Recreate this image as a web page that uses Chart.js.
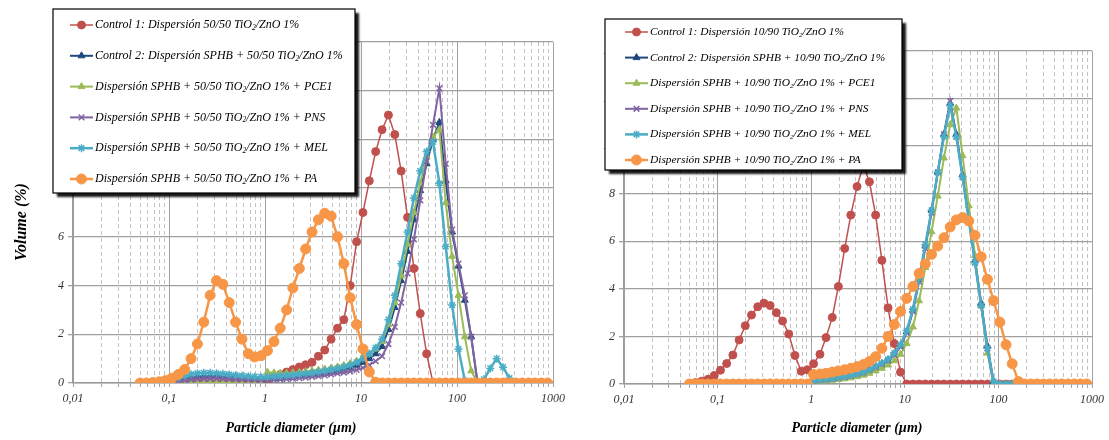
<!DOCTYPE html>
<html>
<head>
<meta charset="utf-8">
<script src="https://cdn.jsdelivr.net/npm/chart.js@4"></script>
<style>
  body { margin: 0; background: #fff; }
  #wrap { position: relative; width: 1109px; height: 440px; }
  #left_chart { position: absolute; left: 0; top: 0; }
  #right_chart { position: absolute; left: 580px; top: 0; }
</style>
</head>
<body>
<div id="wrap">
  <canvas id="left_chart" width="570" height="440"></canvas>
  <canvas id="right_chart" width="529" height="440"></canvas>
</div>
<script>
// particle size classes (µm)
const sizes = [
  0.05, 0.0582, 0.0679, 0.0791, 0.0921, 0.1073, 0.125, 0.1456, 0.1697, 0.1977, 0.2303, 0.2683, 0.3125,
  0.3641, 0.4242, 0.4941, 0.5757, 0.6706, 0.7813, 0.9101, 1.06, 1.24, 1.44, 1.68, 1.95, 2.28,
  2.65, 3.09, 3.60, 4.19, 4.88, 5.69, 6.63, 7.72, 9.00, 10.48, 12.21, 14.22, 16.57,
  19.31, 22.49, 26.20, 30.53, 35.56, 41.43, 48.27, 56.23, 65.51, 76.32, 88.91, 103.58, 120.67,
  140.58, 163.77, 190.80, 222.28, 258.95, 301.68, 351.46, 409.45, 477.01, 555.71, 647.41, 754.23, 878.67
];

// ---- 50/50 TiO2/ZnO (left) ----
const labels_5050 = [
  'Control 1: Dispersión 50/50 TiO₂/ZnO 1%',
  'Control 2: Dispersión SPHB + 50/50 TiO₂/ZnO 1%',
  'Dispersión SPHB + 50/50 TiO₂/ZnO 1% + PCE1',
  'Dispersión SPHB + 50/50 TiO₂/ZnO 1% + PNS',
  'Dispersión SPHB + 50/50 TiO₂/ZnO 1% + MEL',
  'Dispersión SPHB + 50/50 TiO₂/ZnO 1% + PA'
];
const control1_5050 = [
  0, 0, 0, 0, 0, 0, 0, 0, 0, 0, 0, 0, 0,
  0, 0, 0, 0, 0, 0.03, 0.08, 0.15, 0.25, 0.35, 0.45, 0.55, 0.66,
  0.75, 0.85, 1.1, 1.35, 1.8, 2.25, 2.6, 4.0, 5.8, 7.0, 8.3, 9.5, 10.4,
  11.0, 10.2, 8.7, 6.8, 4.7, 2.85, 1.2, 0, 0, 0, 0, 0, 0,
  0, 0, 0, 0, 0, 0, 0, 0, 0, 0, 0, 0, 0
];
const control2_5050 = [
  0, 0, 0, 0, 0.02, 0.08, 0.15, 0.2, 0.25, 0.28, 0.3, 0.3, 0.3,
  0.28, 0.26, 0.24, 0.22, 0.2, 0.18, 0.17, 0.17, 0.18, 0.2, 0.22, 0.24, 0.27,
  0.3, 0.33, 0.37, 0.41, 0.46, 0.51, 0.57, 0.64, 0.73, 0.85, 1.0, 1.2, 1.5,
  2.2, 3.1, 4.2, 5.4, 6.7, 7.9, 9.0, 10.0, 10.7, 8.3, 6.2, 4.8, 3.4,
  1.9, 0, 0, 0, 0, 0, 0, 0, 0, 0, 0, 0, 0
];
const pce1_5050 = [
  0, 0, 0, 0, 0, 0, 0, 0, 0, 0, 0, 0, 0,
  0, 0, 0, 0, 0, 0, 0, 0.45, 0.42, 0.4, 0.4, 0.42, 0.44,
  0.47, 0.5, 0.53, 0.57, 0.61, 0.66, 0.72, 0.8, 0.9, 1.05, 1.2, 1.4, 1.7,
  2.4, 3.3, 4.4, 5.7, 7.0, 8.2, 9.3, 10.1, 10.4, 7.4, 5.2, 3.6, 1.9,
  0.5, 0, 0, 0, 0, 0, 0, 0, 0, 0, 0, 0, 0
];
const pns_5050 = [
  0, 0, 0, 0, 0.01, 0.04, 0.08, 0.11, 0.14, 0.16, 0.17, 0.18, 0.18,
  0.17, 0.16, 0.15, 0.14, 0.13, 0.12, 0.12, 0.12, 0.13, 0.14, 0.16, 0.18, 0.2,
  0.22, 0.25, 0.28, 0.31, 0.35, 0.39, 0.43, 0.48, 0.54, 0.62, 0.74, 0.9, 1.1,
  1.6, 2.3, 3.3, 4.5, 5.9, 7.5, 9.1, 10.6, 12.1, 9.0, 6.3, 4.9, 3.6,
  1.9, 0, 0, 0, 0, 0, 0, 0, 0, 0, 0, 0, 0
];
const mel_5050 = [
  0, 0, 0, 0, 0.03, 0.12, 0.22, 0.3, 0.36, 0.4, 0.42, 0.42, 0.4,
  0.38, 0.35, 0.32, 0.3, 0.28, 0.26, 0.25, 0.25, 0.27, 0.29, 0.31, 0.33, 0.36,
  0.39, 0.42, 0.46, 0.5, 0.55, 0.6, 0.66, 0.73, 0.85, 1.0, 1.2, 1.45, 1.8,
  2.6, 3.6, 4.9, 6.2, 7.6, 8.7, 9.5, 9.9, 8.2, 5.6, 3.2, 1.4, 0.1,
  0, 0, 0.15, 0.6, 1.0, 0.65, 0.2, 0, 0, 0, 0, 0, 0
];
const pa_5050 = [
  0, 0, 0.02, 0.05, 0.1, 0.2, 0.35, 0.55, 1.0, 1.6, 2.5, 3.6, 4.2,
  4.05, 3.3, 2.5, 1.8, 1.2, 1.07, 1.12, 1.33, 1.7, 2.25, 3.0, 3.9, 4.7,
  5.5, 6.2, 6.7, 6.97, 6.85, 6.0, 4.9, 3.5, 2.4, 1.4, 0.45, 0.03, 0,
  0, 0, 0, 0, 0, 0, 0, 0, 0, 0, 0, 0, 0,
  0, 0, 0, 0, 0, 0, 0, 0, 0, 0, 0, 0, 0
];

// ---- 10/90 TiO2/ZnO (right) ----
const labels_1090 = [
  'Control 1: Dispersión 10/90 TiO₂/ZnO 1%',
  'Control 2: Dispersión SPHB + 10/90 TiO₂/ZnO 1%',
  'Dispersión SPHB + 10/90 TiO₂/ZnO 1% + PCE1',
  'Dispersión SPHB + 10/90 TiO₂/ZnO 1% + PNS',
  'Dispersión SPHB + 10/90 TiO₂/ZnO 1% + MEL',
  'Dispersión SPHB + 10/90 TiO₂/ZnO 1% + PA'
];
const control1_1090 = [
  0, 0.06, 0.12, 0.2, 0.36, 0.58, 0.86, 1.22, 1.85, 2.45, 2.9, 3.25, 3.4,
  3.3, 3.0, 2.65, 2.1, 1.2, 0.54, 0.6, 0.85, 1.25, 1.95, 2.8, 4.1, 5.7,
  7.1, 8.3, 9.2, 8.5, 7.1, 5.2, 3.2, 1.7, 0.5, 0, 0, 0, 0,
  0, 0, 0, 0, 0, 0, 0, 0, 0, 0, 0, 0, 0,
  0, 0, 0, 0, 0, 0, 0, 0, 0, 0, 0, 0, 0
];
const control2_1090 = [
  0, 0, 0, 0, 0, 0, 0, 0, 0, 0, 0, 0, 0,
  0, 0, 0, 0, 0, 0, 0, 0.15, 0.17, 0.2, 0.23, 0.27, 0.31,
  0.36, 0.42, 0.5, 0.6, 0.72, 0.85, 1.0, 1.25, 1.6, 2.2, 3.1, 4.4, 5.8,
  7.3, 8.9, 10.5, 11.8, 10.5, 8.8, 7.0, 5.2, 3.4, 1.6, 0.1, 0, 0,
  0, 0, 0, 0, 0, 0, 0, 0, 0, 0, 0, 0, 0
];
const pce1_1090 = [
  0, 0, 0, 0, 0, 0, 0, 0, 0, 0, 0, 0, 0,
  0, 0, 0, 0, 0, 0, 0, 0.1, 0.12, 0.14, 0.16, 0.19, 0.22,
  0.26, 0.31, 0.37, 0.45, 0.55, 0.66, 0.8, 0.98, 1.25, 1.7, 2.4, 3.5, 4.9,
  6.4, 7.9, 9.5, 10.9, 11.6, 9.6, 7.5, 5.4, 3.3, 1.3, 0, 0, 0,
  0, 0, 0, 0, 0, 0, 0, 0, 0, 0, 0, 0, 0
];
const pns_1090 = [
  0, 0, 0, 0, 0, 0, 0, 0, 0, 0, 0, 0, 0,
  0, 0, 0, 0, 0, 0, 0, 0.14, 0.16, 0.19, 0.22, 0.26, 0.3,
  0.35, 0.41, 0.48, 0.58, 0.7, 0.83, 0.98, 1.22, 1.57, 2.15, 3.05, 4.3, 5.7,
  7.2, 8.9, 10.5, 11.9, 10.4, 8.7, 6.9, 5.1, 3.3, 1.5, 0, 0, 0,
  0, 0, 0, 0, 0, 0, 0, 0, 0, 0, 0, 0, 0
];
const mel_1090 = [
  0, 0, 0, 0, 0, 0, 0, 0, 0, 0, 0, 0, 0,
  0, 0, 0, 0, 0, 0, 0, 0.16, 0.18, 0.21, 0.24, 0.28, 0.32,
  0.37, 0.43, 0.51, 0.61, 0.74, 0.88, 1.04, 1.3, 1.66, 2.25, 3.15, 4.45, 5.85,
  7.3, 8.9, 10.4, 11.7, 10.4, 8.7, 6.9, 5.1, 3.3, 1.5, 0.1, 0, 0,
  0, 0, 0, 0, 0, 0, 0, 0, 0, 0, 0, 0, 0
];
const pa_1090 = [
  0, 0, 0, 0, 0, 0, 0, 0, 0, 0, 0, 0, 0,
  0, 0, 0, 0, 0, 0, 0, 0.4, 0.42, 0.45, 0.5, 0.55, 0.6,
  0.66, 0.73, 0.82, 0.95, 1.15, 1.5, 2.0, 2.5, 3.05, 3.6, 4.1, 4.65, 5.05,
  5.45, 5.8, 6.15, 6.6, 6.9, 7.0, 6.85, 6.25, 5.35, 4.4, 3.5, 2.6, 1.65,
  0.85, 0.1, 0, 0, 0, 0, 0, 0, 0, 0, 0, 0, 0
];

// axes
const x_decades = [0.01, 0.1, 1, 10, 100, 1000];
const x_tick_labels = ['0,01', '0,1', '1', '10', '100', '1000'];
const y_max = 14;
const y_step = 2;
const x_title = 'Particle diameter (µm)';
const y_title = 'Volume (%)';

const serif = '"Liberation Serif", "Times New Roman", serif';
Chart.defaults.font.family = serif;

// Excel style series: colour, marker, marker radius, line width
const series_styles = [
  {color: '#C0504D', point: 'circle', radius: 4, width: 1.5, pw: 1},
  {color: '#1F497D', point: 'triangle', radius: 4, width: 2, pw: 1},
  {color: '#9BBB59', point: 'triangle', radius: 4, width: 2, pw: 1},
  {color: '#8064A2', point: 'crossRot', radius: 4, width: 2, pw: 1.5},
  {color: '#4BACC6', point: 'star', radius: 4, width: 2.5, pw: 1.5},
  {color: '#F79646', point: 'circle', radius: 5, width: 2.5, pw: 1}
];

function isDecade(v) {
  const l = Math.log10(v);
  return Math.abs(l - Math.round(l)) < 1e-9;
}

function makeDatasets(labels, series) {
  return series.map((vals, k) => {
    const s = series_styles[k];
    return {
      label: labels[k],
      data: vals.map((v, i) => ({x: sizes[i], y: v})),
      borderColor: s.color,
      backgroundColor: s.color,
      borderWidth: s.width,
      pointStyle: s.point,
      pointRadius: s.radius,
      pointHoverRadius: s.radius,
      pointBorderWidth: s.pw,
      tension: 0,
      order: series.length - k   // later series drawn on top, like Excel
    };
  });
}

// draws "TiO₂" with a real small subscript
function drawRich(ctx, text, x, y, size) {
  const parts = text.split('₂');
  parts.forEach((p, k) => {
    ctx.font = 'italic ' + size + 'px ' + serif;
    ctx.fillText(p, x, y);
    x += ctx.measureText(p).width;
    if (k < parts.length - 1) {
      ctx.font = 'italic ' + (size * 0.62) + 'px ' + serif;
      ctx.fillText('2', x, y + size * 0.25);
      x += ctx.measureText('2').width;
    }
  });
}

function legendPlugin(b) {
  return {
    id: 'boxLegend',
    afterDraw(chart) {
      const ctx = chart.ctx;
      ctx.save();
      ctx.shadowColor = 'rgba(0,0,0,0.9)';
      ctx.shadowOffsetX = 4;
      ctx.shadowOffsetY = 4;
      ctx.shadowBlur = 2;
      ctx.fillStyle = '#fff';
      ctx.fillRect(b.x, b.y, b.w, b.h);
      ctx.shadowColor = 'transparent';
      ctx.strokeStyle = '#000';
      ctx.lineWidth = 1.2;
      ctx.strokeRect(b.x, b.y, b.w, b.h);

      chart.data.datasets.forEach((ds, k) => {
        const cy = b.y + b.first + k * b.gap;
        ctx.strokeStyle = ds.borderColor;
        ctx.fillStyle = ds.borderColor;
        ctx.lineWidth = ds.borderWidth;
        ctx.beginPath();
        ctx.moveTo(b.x + b.l0, cy);
        ctx.lineTo(b.x + b.l1, cy);
        ctx.stroke();
        ctx.lineWidth = ds.pointBorderWidth;
        Chart.helpers.drawPoint(ctx, {
          pointStyle: ds.pointStyle, radius: ds.pointRadius,
          borderWidth: ds.pointBorderWidth, rotation: 0
        }, b.x + (b.l0 + b.l1) / 2, cy);
        ctx.fillStyle = '#000';
        ctx.textBaseline = 'middle';
        ctx.textAlign = 'left';
        drawRich(ctx, ds.label, b.x + b.l1 + 2, cy, b.font);
      });
      ctx.restore();
    }
  };
}

function titlesPlugin(t) {
  return {
    id: 'axisTitles',
    afterDraw(chart) {
      const ctx = chart.ctx;
      ctx.save();
      ctx.fillStyle = '#000';
      ctx.font = 'bold italic 14px ' + serif;
      ctx.textAlign = 'center';
      ctx.textBaseline = 'middle';
      ctx.fillText(x_title, t.x, t.y);
      if (t.showY) {
        ctx.font = 'bold italic 16px ' + serif;
        ctx.translate(t.yx, t.yy);
        ctx.rotate(-Math.PI / 2);
        ctx.fillText(y_title, 0, 0);
      }
      ctx.restore();
    }
  };
}

function makeConfig(labels, series, box) {
  const tickFont = {family: serif, style: 'italic', size: 12};
  return {
    type: 'line',
    data: {datasets: makeDatasets(labels, series)},
    options: {
      responsive: false,
      animation: false,
      layout: {padding: {left: 0, top: box.top, right: box.right, bottom: 0}},
      plugins: {
        legend: {display: false},
        tooltip: {enabled: false}
      },
      scales: {
        x: {
          type: 'logarithmic',
          min: x_decades[0],
          max: x_decades[x_decades.length - 1],
          afterFit: s => { s.height = box.xh; },
          afterBuildTicks: s => {
            const t = [];
            x_decades.forEach((d, k) => {
              const last = k === x_decades.length - 1 ? 1 : 9;
              for (let m = 1; m <= last; m++) t.push({value: d * m});
            });
            s.ticks = t;
          },
          ticks: {
            autoSkip: false,
            maxRotation: 0,
            minRotation: 0,
            padding: 5,
            color: '#333',
            font: tickFont,
            callback: v => isDecade(v) ? x_tick_labels[Math.round(Math.log10(v)) + 2] : ''
          },
          grid: {
            color: c => (c.tick && !isDecade(c.tick.value)) ? '#c2c2c2' : '#a3a3a3',
            lineWidth: 1,
            tickLength: 4,
            tickColor: '#a3a3a3'
          },
          border: {
            color: '#9a9a9a',
            width: 1.5,
            dash: c => (c.tick && !isDecade(c.tick.value)) ? [4, 3] : []
          }
        },
        y: {
          min: 0,
          max: y_max,
          afterFit: s => { s.width = box.yw; },
          ticks: {stepSize: y_step, padding: 4, color: '#333', font: tickFont},
          grid: {color: '#a0a0a0', lineWidth: 1.3, tickLength: 5, tickColor: '#a0a0a0'},
          border: {color: '#9a9a9a', width: 1.5}
        }
      }
    },
    plugins: [titlesPlugin(box.titles), legendPlugin(box.legend)]
  };
}

const left_chart = new Chart(
  document.getElementById('left_chart'),
  makeConfig(labels_5050,
    [control1_5050, control2_5050, pce1_5050, pns_5050, mel_5050, pa_5050],
    {
      top: 42, right: 16, yw: 73, xh: 57,
      titles: {x: 291, y: 428, showY: true, yx: 22, yy: 222},
      legend: {x: 53, y: 9, w: 302, h: 184, first: 16, gap: 30.8, l0: 17, l1: 40, font: 12}
    })
);

const right_chart = new Chart(
  document.getElementById('right_chart'),
  makeConfig(labels_1090,
    [control1_1090, control2_1090, pce1_1090, pns_1090, mel_1090, pa_1090],
    {
      top: 51, right: 10, yw: 44, xh: 56,
      titles: {x: 277, y: 428, showY: false},
      legend: {x: 25, y: 19, w: 297, h: 151, first: 13, gap: 25.6, l0: 20, l1: 43, font: 11.4}
    })
);
</script>
</body>
</html>
